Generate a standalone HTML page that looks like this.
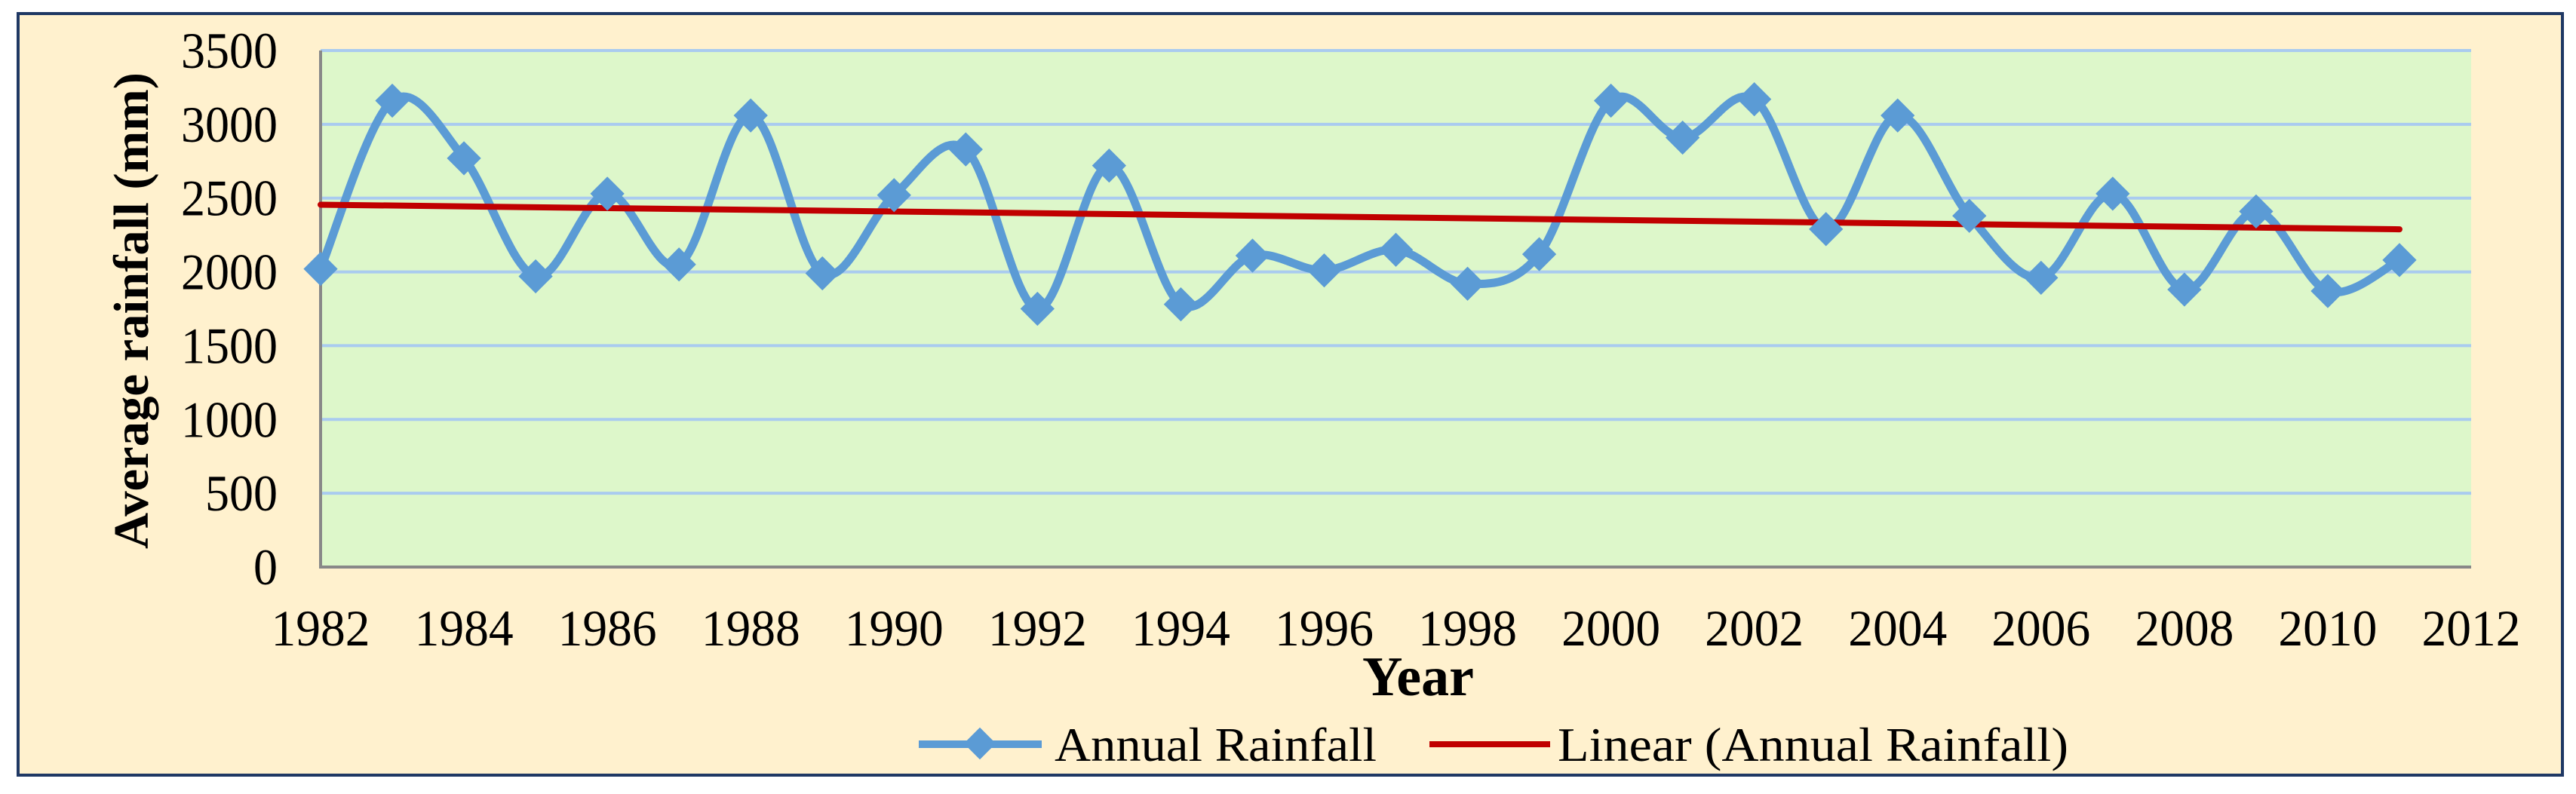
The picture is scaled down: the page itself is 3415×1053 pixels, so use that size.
<!DOCTYPE html>
<html><head><meta charset="utf-8"><style>
html,body{margin:0;padding:0;background:#fff;}
svg text{font-family:"Liberation Serif",serif;fill:#000;}
</style></head><body>
<svg id="chart" width="3415" height="1048" xmlns="http://www.w3.org/2000/svg">
<rect x="24" y="18" width="3373" height="1010" fill="#FFF1CE" stroke="#1F3864" stroke-width="4"/>
<rect x="425" y="67" width="2851" height="685" fill="#DDF7CA"/>
<g id="grid"></g>
<g id="axes"></g>
<g id="series"></g>
<text transform="translate(196,412) rotate(-90)" text-anchor="middle" font-size="66" font-weight="bold" textLength="632" lengthAdjust="spacingAndGlyphs">Average rainfall (mm)</text>
<text x="1880" y="922" text-anchor="middle" font-size="74" font-weight="bold">Year</text>
<g>
<g>
<line x1="1218" y1="987" x2="1381" y2="987" stroke="#5B9BD5" stroke-width="10"/>
<rect x="1284" y="971" width="30" height="30" fill="#5B9BD5" transform="rotate(45 1299 986)"/>
<text x="1398" y="1009" font-size="64" textLength="427" lengthAdjust="spacingAndGlyphs">Annual Rainfall</text>
</g>
<g>
<line x1="1895" y1="987" x2="2055" y2="987" stroke="#C00000" stroke-width="8"/>
<text x="2065" y="1009" font-size="64" textLength="677" lengthAdjust="spacingAndGlyphs">Linear (Annual Rainfall)</text>
</g>
</g>
</svg>
<script>
const years=[1982,1983,1984,1985,1986,1987,1988,1989,1990,1991,1992,1993,1994,1995,1996,1997,1998,1999,2000,2001,2002,2003,2004,2005,2006,2007,2008,2009,2010,2011];
const rainfall=[2020,3160,2770,1970,2530,2050,3060,1990,2520,2830,1750,2720,1780,2110,2010,2150,1920,2120,3160,2910,3170,2290,3060,2380,1960,2530,1880,2410,1870,2080];
const yTicks=[0,500,1000,1500,2000,2500,3000,3500];
const xTicks=[1982,1984,1986,1988,1990,1992,1994,1996,1998,2000,2002,2004,2006,2008,2010,2012];
const NS="http://www.w3.org/2000/svg";
const X0=425,X1=3276,Y0=752,Y1=67;
const xs=v=>X0+(v-1982)/(2012-1982)*(X1-X0);
const ys=v=>Y0-(v/3500)*(Y0-Y1);
function mk(tag,attrs,parent,txt){const e=document.createElementNS(NS,tag);for(const k in attrs)e.setAttribute(k,attrs[k]);if(txt!==undefined)e.textContent=txt;parent.appendChild(e);return e;}
const grid=document.getElementById('grid'),axes=document.getElementById('axes'),series=document.getElementById('series');
yTicks.forEach(t=>{
 if(t>0){const g=mk('line',{x1:X0,x2:X1,y1:ys(t),y2:ys(t),stroke:'#A9CBEF','stroke-width':4},grid);
 
 }
 const s=String(t);
 const l=mk('text',{x:368,y:ys(t)+23,'text-anchor':'end','font-size':68,textLength:s.length*32,lengthAdjust:'spacingAndGlyphs'},axes,s);
 
 
});
xTicks.forEach(t=>{
 const l=mk('text',{x:xs(t),y:856,'text-anchor':'middle','font-size':68,textLength:131,lengthAdjust:'spacingAndGlyphs'},axes,String(t));
 
 
});
const ax=mk('path',{d:`M${X0} ${Y1} V${Y0} H${X1}`,fill:'none',stroke:'#888','stroke-width':4},axes);


const P=years.map((y,i)=>[xs(y),ys(rainfall[i])]);
let d=`M${P[0][0]} ${P[0][1]}`;
for(let i=0;i<P.length-1;i++){
 const p0=P[Math.max(0,i-1)],p1=P[i],p2=P[i+1],p3=P[Math.min(P.length-1,i+2)];
 const t=1/6;
 d+=` C${p1[0]+(p2[0]-p0[0])*t} ${p1[1]+(p2[1]-p0[1])*t} ${p2[0]-(p3[0]-p1[0])*t} ${p2[1]-(p3[1]-p1[1])*t} ${p2[0]} ${p2[1]}`;
}
const line=mk('path',{d:d,fill:'none',stroke:'#5B9BD5','stroke-width':11,'stroke-linejoin':'round'},series);


const n=years.length,mx=years.reduce((a,b)=>a+b)/n,my=rainfall.reduce((a,b)=>a+b)/n;
let sxy=0,sxx=0;years.forEach((y,i)=>{sxy+=(y-mx)*(rainfall[i]-my);sxx+=(y-mx)*(y-mx);});
const slope=sxy/sxx,b=my-slope*mx;
const y0=years[0],yn=years[n-1];
const tr=mk('line',{x1:xs(y0),y1:ys(slope*y0+b),x2:xs(yn),y2:ys(slope*yn+b),stroke:'#C00000','stroke-width':8,'stroke-linecap':'round'},series);


P.forEach((p,i)=>{
 const m=mk('rect',{x:p[0]-16,y:p[1]-16,width:32,height:32,fill:'#5B9BD5',transform:`rotate(45 ${p[0]} ${p[1]})`},series);
 
 
});
</script>
</body></html>
